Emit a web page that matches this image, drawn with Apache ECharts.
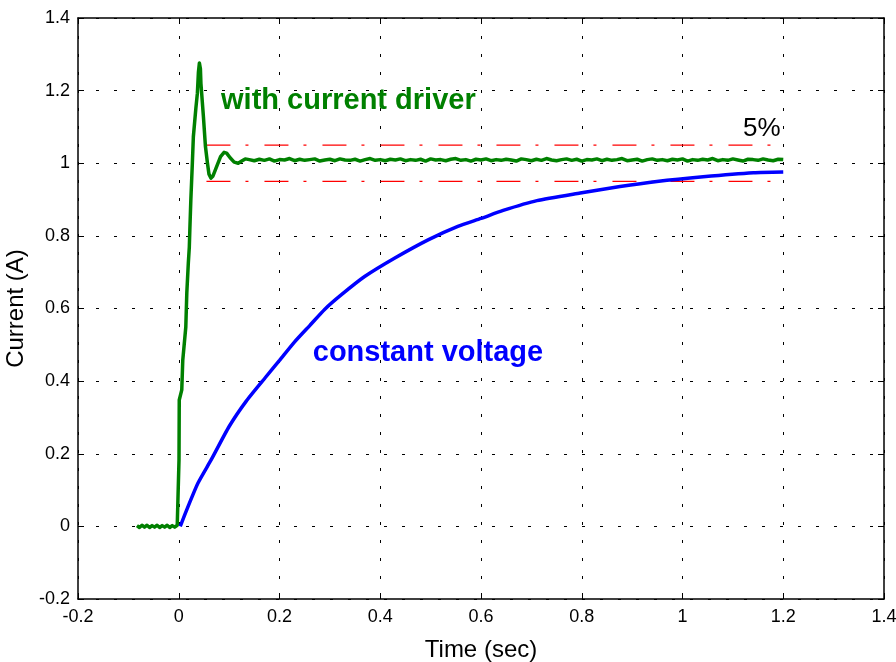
<!DOCTYPE html>
<html>
<head>
<meta charset="utf-8">
<script src="https://cdn.jsdelivr.net/npm/echarts@6/dist/echarts.min.js"></script>
<style>html,body{margin:0;padding:0;background:#fff}#c{width:896px;height:662px}</style>
</head>
<body>
<div id="c"></div>
<script>
// ---- data ----
const xTicks = [-0.2, 0, 0.2, 0.4, 0.6, 0.8, 1, 1.2, 1.4];
const xTickLabels = ['-0.2', '0', '0.2', '0.4', '0.6', '0.8', '1', '1.2', '1.4'];
const yTicks = [-0.2, 0, 0.2, 0.4, 0.6, 0.8, 1, 1.2, 1.4];
const yTickLabels = ['-0.2', '0', '0.2', '0.4', '0.6', '0.8', '1', '1.2', '1.4'];

// current driver: pre-step, rise and ringing
const greenStart = [
  [-0.083, 0.002], [-0.078, -0.003], [-0.073, 0.003], [-0.068, -0.002], [-0.063, 0.003],
  [-0.058, -0.003], [-0.053, 0.002], [-0.048, -0.002], [-0.043, 0.003], [-0.038, -0.003],
  [-0.033, 0.002], [-0.028, -0.002], [-0.023, 0.003], [-0.018, -0.003], [-0.013, 0.002],
  [-0.008, -0.002], [-0.003, 0.003], [0.0, 0.0],
  [0.0005, 0.183], [0.001, 0.348], [0.006, 0.376], [0.008, 0.458], [0.014, 0.549],
  [0.016, 0.643], [0.019, 0.725], [0.021, 0.77], [0.022, 0.816], [0.024, 0.899],
  [0.027, 1.0], [0.029, 1.073], [0.034, 1.152], [0.037, 1.193], [0.039, 1.25],
  [0.041, 1.276], [0.043, 1.26], [0.044, 1.22], [0.049, 1.128], [0.053, 1.046],
  [0.057, 1.0], [0.060, 0.97], [0.064, 0.959], [0.068, 0.965], [0.075, 0.99],
  [0.083, 1.018], [0.090, 1.03], [0.095, 1.028], [0.102, 1.015], [0.110, 1.003],
  [0.118, 1.0], [0.125, 1.006], [0.132, 1.012]
];
// current driver: settled part (sample times and readings)
const greenFlatT = [
  0.14, 0.15, 0.16, 0.17, 0.18, 0.19, 0.20, 0.21, 0.22, 0.23,
  0.24, 0.25, 0.26, 0.27, 0.28, 0.29, 0.30, 0.31, 0.32, 0.33,
  0.34, 0.35, 0.36, 0.37, 0.38, 0.39, 0.40, 0.41, 0.42, 0.43,
  0.44, 0.45, 0.46, 0.47, 0.48, 0.49, 0.50, 0.51, 0.52, 0.53,
  0.54, 0.55, 0.56, 0.57, 0.58, 0.59, 0.60, 0.61, 0.62, 0.63,
  0.64, 0.65, 0.66, 0.67, 0.68, 0.69, 0.70, 0.71, 0.72, 0.73,
  0.74, 0.75, 0.76, 0.77, 0.78, 0.79, 0.80, 0.81, 0.82, 0.83,
  0.84, 0.85, 0.86, 0.87, 0.88, 0.89, 0.90, 0.91, 0.92, 0.93,
  0.94, 0.95, 0.96, 0.97, 0.98, 0.99, 1.00, 1.01, 1.02, 1.03,
  1.04, 1.05, 1.06, 1.07, 1.08, 1.09, 1.10, 1.11, 1.12, 1.13,
  1.14, 1.15, 1.16, 1.17, 1.18, 1.19, 1.20
];
const greenFlatI = [
  1.010, 1.007, 1.011, 1.008, 1.012, 1.006, 1.010, 1.009, 1.013, 1.007,
  1.011, 1.008, 1.010, 1.012, 1.006, 1.009, 1.011, 1.007, 1.012, 1.009,
  1.008, 1.011, 1.006, 1.010, 1.013, 1.008, 1.010, 1.007, 1.011, 1.009,
  1.012, 1.007, 1.010, 1.008, 1.011, 1.006, 1.012, 1.009, 1.010, 1.007,
  1.011, 1.013, 1.008, 1.010, 1.006, 1.011, 1.009, 1.012, 1.007, 1.010,
  1.008, 1.011, 1.009, 1.006, 1.012, 1.010, 1.007, 1.011, 1.008, 1.013,
  1.009, 1.007, 1.010, 1.012, 1.008, 1.011, 1.006, 1.010, 1.009, 1.012,
  1.007, 1.011, 1.008, 1.010, 1.013, 1.007, 1.009, 1.011, 1.006, 1.010,
  1.012, 1.008, 1.010, 1.007, 1.011, 1.009, 1.012, 1.006, 1.010, 1.008,
  1.011, 1.009, 1.013, 1.007, 1.010, 1.008, 1.012, 1.009, 1.006, 1.011,
  1.010, 1.008, 1.012, 1.009, 1.007, 1.011, 1.010
];

// constant voltage
const blueT = [0.003, 0.02, 0.038, 0.065, 0.10, 0.134, 0.172, 0.20, 0.23, 0.26, 0.29, 0.323,
  0.369, 0.429, 0.495, 0.554, 0.60, 0.644, 0.711, 0.797, 0.876, 0.949, 1.041, 1.141, 1.20];
const blueI = [0.0, 0.06, 0.119, 0.185, 0.275, 0.345, 0.41, 0.457, 0.508, 0.553, 0.598, 0.638,
  0.688, 0.739, 0.789, 0.826, 0.848, 0.870, 0.897, 0.918, 0.936, 0.950, 0.963, 0.974, 0.976];

// 5% band
const bandT = [0.055, 1.2];
const bandUpper = [1.05, 1.05];
const bandLower = [0.95, 0.95];

// annotations
const notes = [
  { x: 0.084, y: 1.172, text: 'with current driver', color: '#008000', bold: true, size: 29 },
  { x: 0.266, y: 0.478, text: 'constant voltage', color: '#0000ff', bold: true, size: 29 },
  { x: 1.12, y: 1.096, text: '5%', color: '#000000', bold: false, size: 26 }
];

// ---- chart ----
const FONT = '"Liberation Sans", Arial, sans-serif';
const xMin = xTicks[0], xMax = xTicks[xTicks.length - 1], xInt = xTicks[1] - xTicks[0];
const yMin = yTicks[0], yMax = yTicks[yTicks.length - 1], yInt = yTicks[1] - yTicks[0];
const xLab = v => xTickLabels[Math.round((v - xMin) / xInt)] ?? '';
const yLab = v => yTickLabels[Math.round((v - yMin) / yInt)] ?? '';

const greenData = greenStart.concat(greenFlatT.map((t, i) => [t, greenFlatI[i]]));
const blueData = blueT.map((t, i) => [t, blueI[i]]);
const upperData = bandT.map((t, i) => [t, bandUpper[i]]);
const lowerData = bandT.map((t, i) => [t, bandLower[i]]);

const chart = echarts.init(document.getElementById('c'), null, { renderer: 'canvas' });

const axisCommon = {
  type: 'value',
  axisLine: { show: true, onZero: false, lineStyle: { color: '#000', width: 1.5 } },
  axisTick: { show: true, inside: true, length: 6, lineStyle: { color: '#000', width: 1 } }
};

chart.setOption({
  animation: false,
  backgroundColor: '#fff',
  textStyle: { fontFamily: FONT },
  grid: { left: 78, top: 18, right: 12, bottom: 63, containLabel: false, outerBoundsMode: 'none' },
  xAxis: [
    Object.assign({}, axisCommon, {
      min: xMin, max: xMax, interval: xInt, position: 'bottom',
      name: 'Time (sec)', nameLocation: 'middle', nameGap: 39,
      nameTextStyle: { fontFamily: FONT, fontSize: 24, color: '#000' },
      axisLabel: { formatter: xLab, fontFamily: FONT, fontSize: 18, color: '#000', margin: 9 },
      splitLine: { show: true, lineStyle: { color: '#000', width: 1, type: [3, 15] } }
    }),
    Object.assign({}, axisCommon, {
      min: xMin, max: xMax, interval: xInt, position: 'top',
      axisLabel: { show: false }, splitLine: { show: false }
    })
  ],
  yAxis: [
    Object.assign({}, axisCommon, {
      min: yMin, max: yMax, interval: yInt, position: 'left',
      name: 'Current (A)', nameLocation: 'middle', nameGap: 42, nameRotate: 90,
      nameTextStyle: { fontFamily: FONT, fontSize: 24, color: '#000' },
      axisLabel: { formatter: yLab, fontFamily: FONT, fontSize: 18, color: '#000', margin: 8 },
      splitLine: { show: true, lineStyle: { color: '#000', width: 1, type: [3, 15] } }
    }),
    Object.assign({}, axisCommon, {
      min: yMin, max: yMax, interval: yInt, position: 'right',
      axisLabel: { show: false }, splitLine: { show: false }
    })
  ],
  series: [
    { type: 'line', data: upperData, showSymbol: false, silent: true,
      lineStyle: { color: '#ff0000', width: 1.2, type: [24, 15, 3, 16] } },
    { type: 'line', data: lowerData, showSymbol: false, silent: true,
      lineStyle: { color: '#ff0000', width: 1.2, type: [24, 15, 3, 16] } },
    { type: 'line', data: blueData, showSymbol: false, smooth: 0.2,
      lineStyle: { color: '#0000ff', width: 3.5 } },
    { type: 'line', data: greenData, showSymbol: false,
      lineStyle: { color: '#008000', width: 3.5, join: 'round' } }
  ]
});

const graphics = notes.map(n => {
  const p = chart.convertToPixel({ gridIndex: 0 }, [n.x, n.y]);
  return {
    type: 'text', x: p[0], y: p[1], silent: true,
    style: {
      text: n.text, fill: n.color, fontFamily: FONT,
      fontSize: n.size, fontWeight: n.bold ? 'bold' : 'normal',
      align: 'left', verticalAlign: 'middle'
    }
  };
});
chart.setOption({ graphic: graphics });
</script>
</body>
</html>
